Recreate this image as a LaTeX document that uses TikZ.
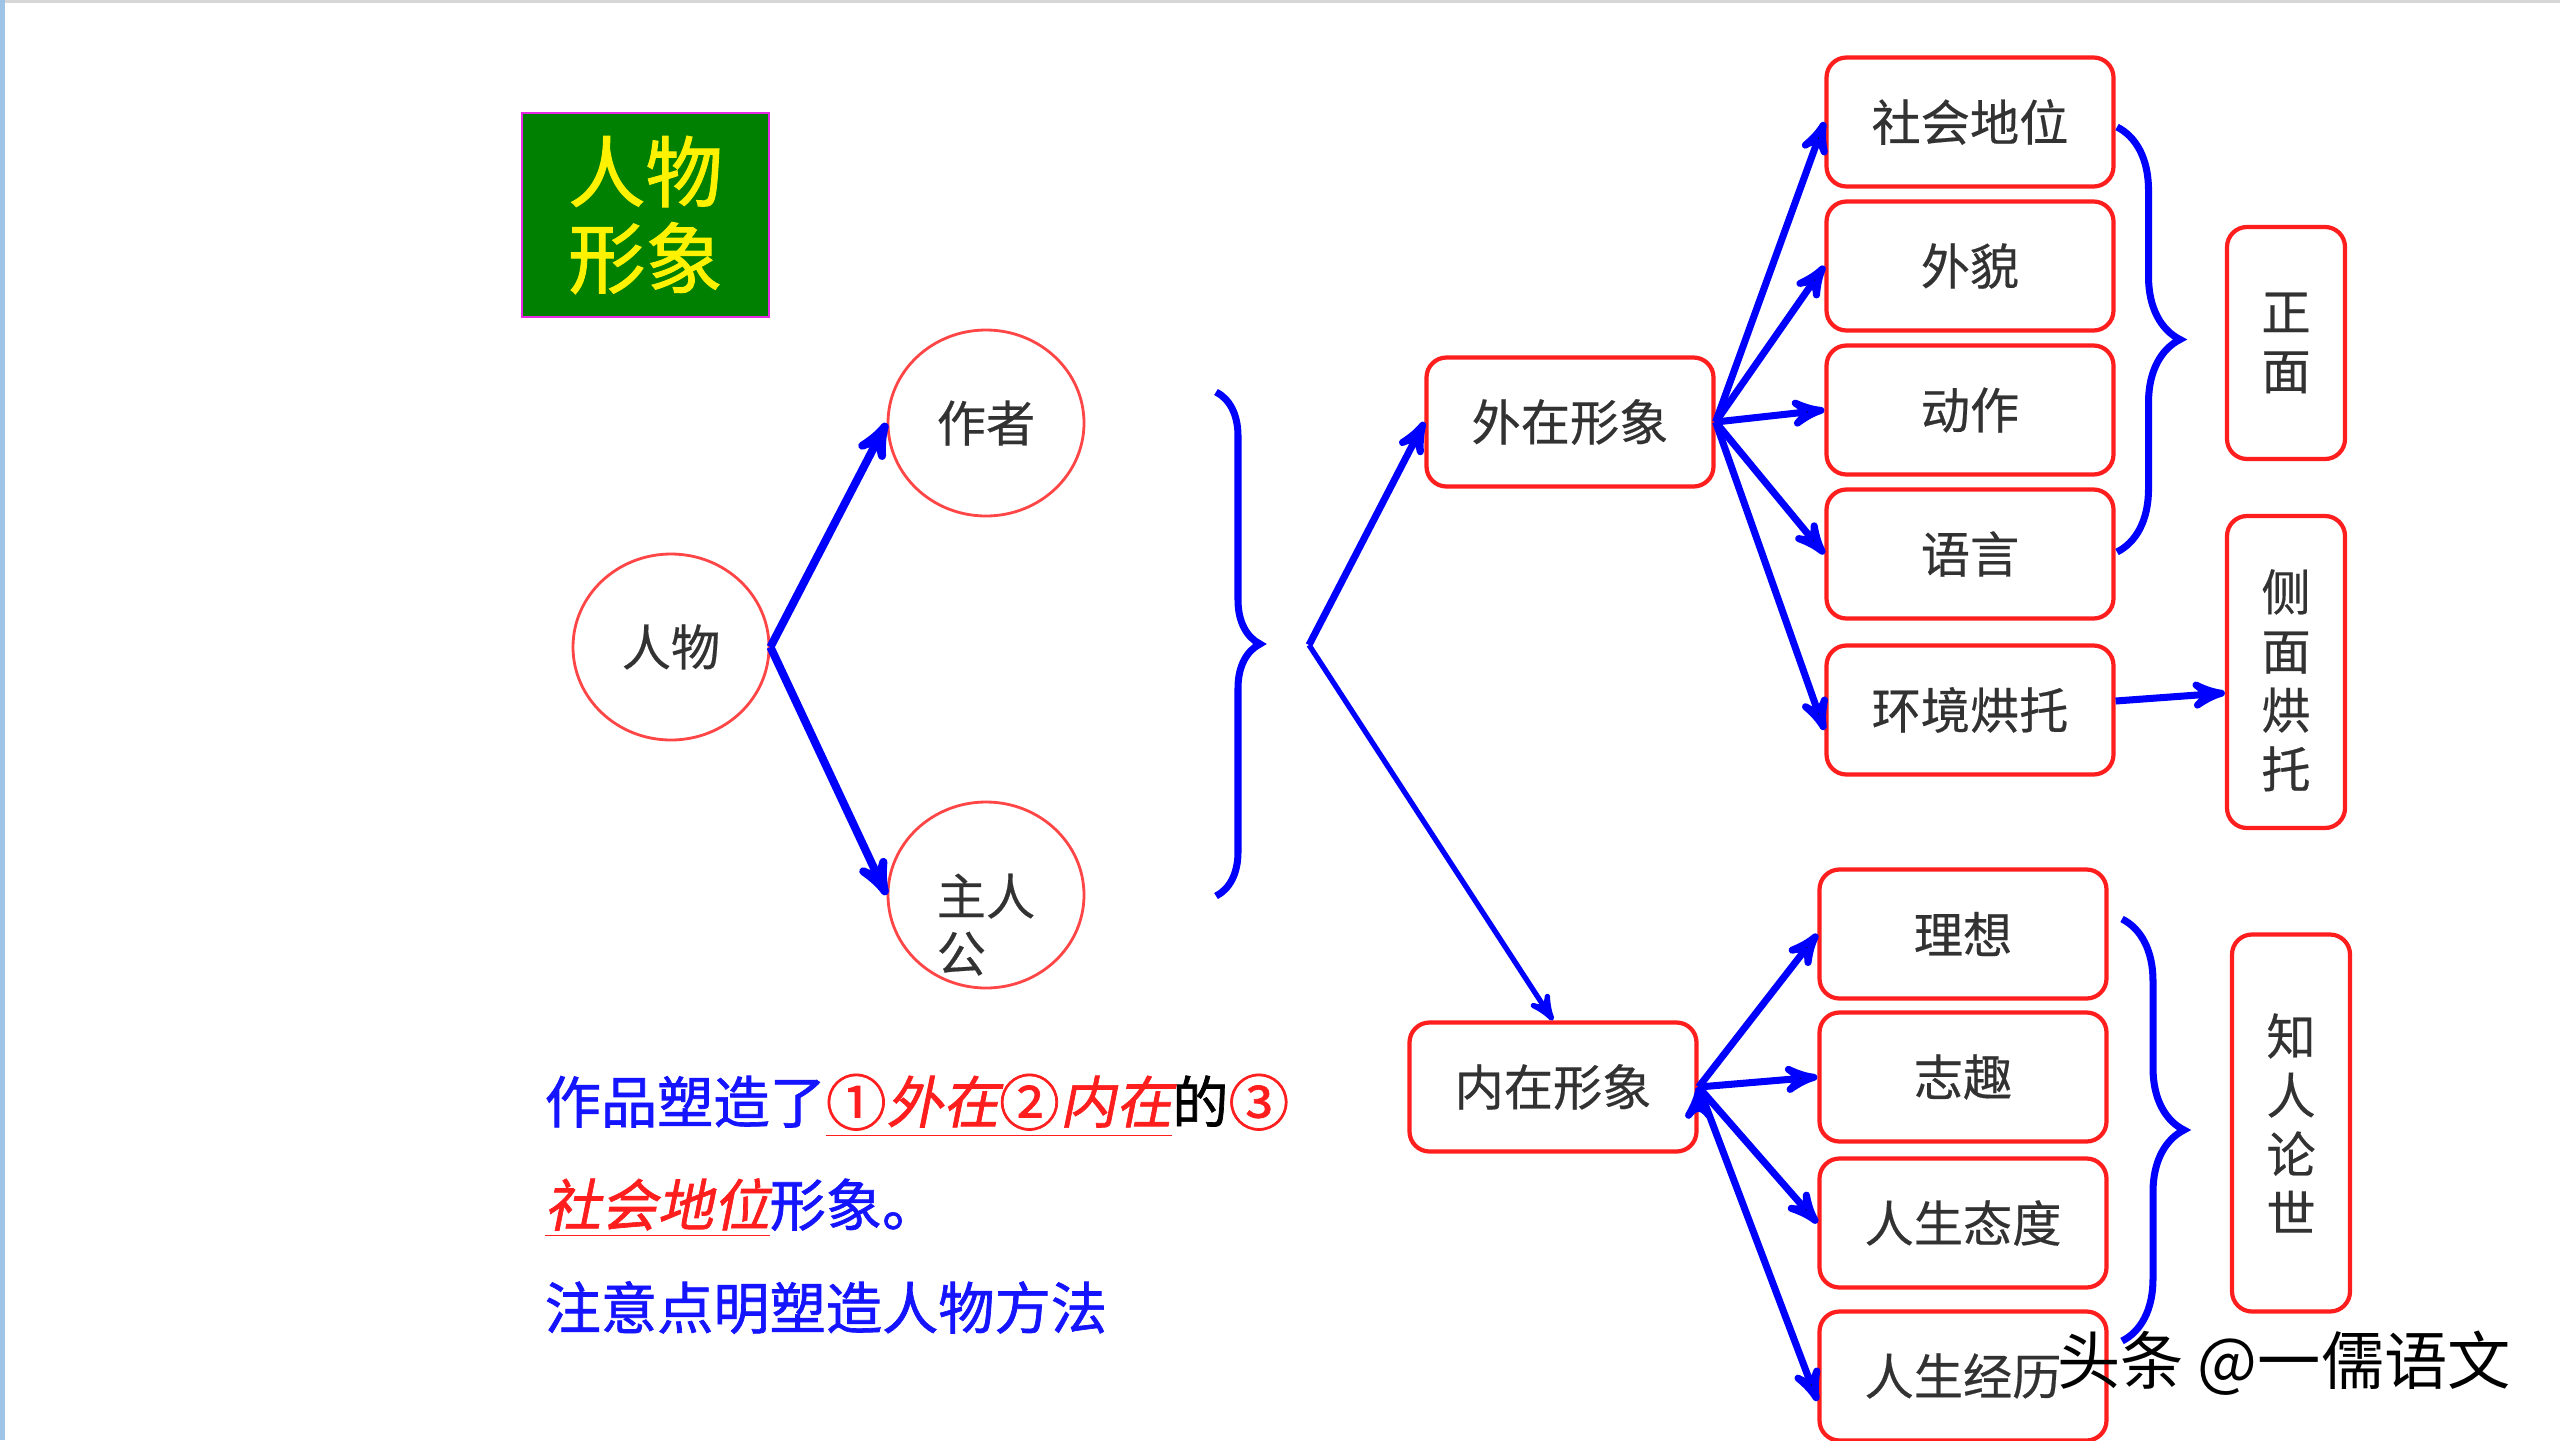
\documentclass[tikz,border=0pt]{standalone}
\usepackage{fontspec}
\setmainfont{Noto Sans CJK SC}
\newfontfamily\slantcjk[FakeSlant=0.2,FakeBold=1.2]{Noto Sans CJK SC}
\newfontfamily\notecjk[FakeBold=1.2]{Noto Sans CJK SC}
\newfontfamily\labelcjk[FakeBold=0.4]{Noto Sans CJK SC}
\usepackage{tikz}
\usetikzlibrary{arrows,positioning,calc,shapes.geometric,decorations.pathreplacing}
\definecolor{boxred}{RGB}{255,30,30}
\definecolor{ellred}{RGB}{255,70,70}
\definecolor{arrowblue}{RGB}{0,0,255}
\definecolor{labelgray}{RGB}{50,50,50}
\definecolor{titlegreen}{RGB}{0,128,0}
\definecolor{titlemagenta}{RGB}{230,40,230}
\definecolor{textblue}{RGB}{20,20,255}
\definecolor{textred}{RGB}{255,30,30}
\definecolor{edgeblue}{RGB}{157,195,230}
\definecolor{edgegray}{RGB}{215,215,215}
\newcommand{\circnum}[1]{\raisebox{-0.04em}{\scalebox{1.08}{#1}}}

\begin{document}
\begin{tikzpicture}[->, >=stealth', auto, node distance=1.44cm]
        \tikzstyle{rbox}=[rectangle, rounded corners=0.2cm, draw=boxred, line width=1.2pt, minimum width=2.87cm, minimum height=1.29cm, text=labelgray, font=\labelcjk\fontsize{14}{16.8}\selectfont]
        \tikzstyle{vbox}=[rbox, minimum width=1.18cm, align=center]
        \tikzstyle{ell}=[ellipse, draw=ellred, line width=0.8pt, minimum width=1.96cm, minimum height=1.86cm, inner sep=0pt, text=labelgray, font=\labelcjk\fontsize{14}{16}\selectfont]
        \tikzstyle{blueline}=[draw=arrowblue, line width=2pt]
        \tikzstyle{bracket}=[-, draw=arrowblue, line width=2pt, decorate]
        \useasboundingbox (0,0) rectangle (25.6,-14.4);
        \fill[white] (0,0) rectangle (25.6,-14.4);
        \fill[edgeblue] (0,0) rectangle (0.05,-14.4);
        \fill[edgegray] (0.05,0) rectangle (25.6,-0.03);

        % title
        \node[rectangle, fill=titlegreen, draw=titlemagenta, line width=0.8pt, minimum width=2.47cm, minimum height=2.04cm, text=yellow, font=\notecjk\fontsize{22}{24.6}\selectfont, align=center] (TITLE) at (6.455,-2.15) {人物\\形象};

        % left part
        \node[ell] (RW)  at (6.71,-6.47) {人物};
        \node[ell] (ZZ)  at (9.86,-4.23) {作者};
        \node[ell] (ZRG) at (9.86,-8.95) {\raisebox{-0.77cm}[0pt][0pt]{\begin{tabular}[b]{@{}l@{}}主人\\公\end{tabular}}};
        \coordinate (B1) at (12.16,-3.92);
        \coordinate (B2) at (12.16,-8.96);
        \coordinate (FORK) at (13.09,-6.45);
        \draw[bracket, decoration={brace, amplitude=0.44cm}] (B1) -- (B2);

        \node[rbox] (WX) at (15.70,-4.22)  {外在形象};
        \node[rbox] (NX) at (15.53,-10.87) {内在形象};

        % outer image
        \node[rbox] (SH) at (19.70,-1.22) {社会地位};
        \node[rbox] (WM) [below of=SH] {外貌};
        \node[rbox] (DZ) [below of=WM] {动作};
        \node[rbox] (YY) [below of=DZ] {语言};
        \node[rbox] (HJ) [below of=YY, node distance=1.56cm] {环境烘托};

        % inner image
        \node[rbox] (LX) at (19.63,-9.34) {理想};
        \node[rbox] (ZQ) [below of=LX, node distance=1.43cm] {志趣};
        \node[rbox] (TD) [below of=ZQ, node distance=1.46cm] {人生态度};
        \node[rbox] (JL) [below of=TD, node distance=1.53cm] {人生经历};

        \node[vbox, minimum height=2.32cm] (ZM) at (22.86,-3.43)  {正\\面};
        \node[vbox, minimum height=3.12cm] (CM) at (22.86,-6.72)  {\raisebox{-0.28cm}[0pt][0pt]{\begin{tabular}{@{}c@{}}侧\\面\\烘\\托\end{tabular}}};
        \node[vbox, minimum height=3.77cm] (ZR) at (22.91,-11.23) {知\\人\\论\\世};

        \coordinate (B3) at (21.17,-1.27);
        \coordinate (B4) at (21.17,-5.52);
        \coordinate (B5) at (21.22,-9.19);
        \coordinate (B6) at (21.22,-13.41);
        \draw[bracket, decoration={brace, amplitude=0.63cm}] (B3) -- (B4);
        \draw[bracket, decoration={brace, amplitude=0.62cm}] (B5) -- (B6);

        \draw[blueline, line width=2.3pt] (RW.east) -- (ZZ.west);
        \draw[blueline, line width=2.3pt] (RW.east) -- (ZRG.west);
        \draw[blueline] (FORK) -- (WX.west);
        \draw[blueline, line width=1.5pt] (FORK) -- (NX.north);

        \path[blueline]
        (WX.east)
        edge (SH.west)
        edge (WM.west)
        edge (DZ.west)
        edge (YY.west)
        edge ([yshift=-0.2cm]HJ.west)

        (NX.east)
        edge (LX.west)
        edge (ZQ.west)
        edge (TD.west)
        edge ([yshift=-0.25cm]JL.west);

        \draw[blueline] ([yshift=0.09cm]HJ.east) -- ([yshift=-0.21cm]CM.west);

        % notes
        \node[anchor=base west, inner sep=0pt, font=\notecjk\fontsize{16}{19}\selectfont, text=textblue] (L1) at (5.44,-11.23) {作品塑造了\textcolor{textred}{\underline{\circnum{①}{\slantcjk 外在}\circnum{②}{\slantcjk 内在}}}\textcolor{black}{的}\textcolor{textred}{\circnum{③}}};
        \node[anchor=base west, inner sep=0pt, font=\notecjk\fontsize{16}{19}\selectfont, text=textblue] (L2) at (5.44,-12.26) {\textcolor{textred}{\underline{\slantcjk 社会地位}}形象。};
        \node[anchor=base west, inner sep=0pt, font=\notecjk\fontsize{16}{19}\selectfont, text=textblue] (L3) at (5.44,-13.29) {注意点明塑造人物方法};

        \node[font=\fontsize{18}{20}\selectfont, text=black] (MARK) at (22.84,-13.63) {头条 @一儒语文};
    \end{tikzpicture}
\end{document}
